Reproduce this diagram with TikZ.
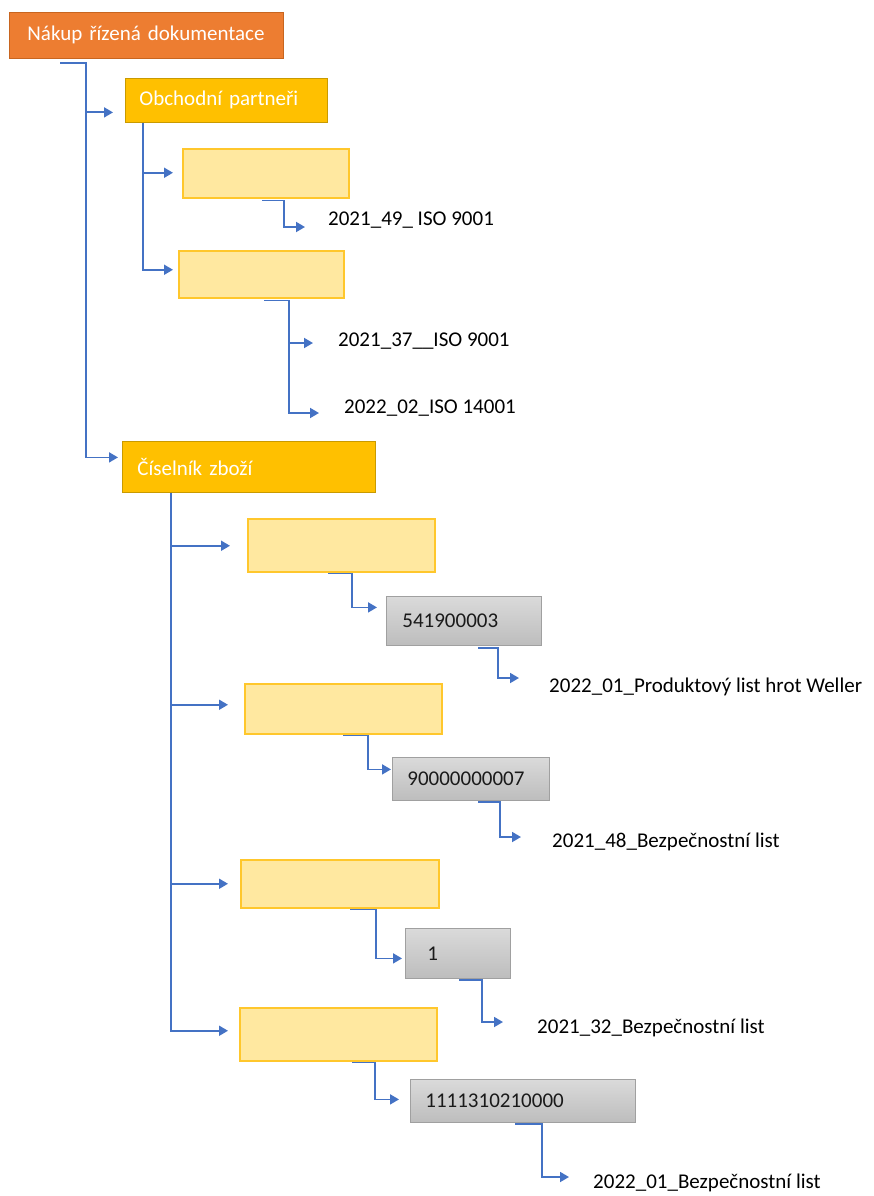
\documentclass[tikz,border=0pt]{standalone}
\usepackage{fontspec}
\setmainfont{Carlito}
\usetikzlibrary{arrows.meta,calc}
\definecolor{conn}{HTML}{4472C4}
\definecolor{orangeF}{HTML}{ED7D31}
\definecolor{orangeD}{HTML}{C8651F}
\definecolor{goldF}{HTML}{FFC000}
\definecolor{goldD}{HTML}{C99A00}
\definecolor{lightF}{HTML}{FFE8A0}
\definecolor{lightD}{HTML}{FFC72C}
\definecolor{greyT}{HTML}{DADADA}
\definecolor{greyB}{HTML}{BDBDBD}
\definecolor{greyD}{HTML}{A0A0A0}
\definecolor{txt}{HTML}{1A1A1A}
\tikzset{
  base/.style={anchor=north west, rectangle, align=left, inner ysep=0pt,
    font=\fontsize{21}{25}\selectfont},
  rootbox/.style={base, fill=orangeF, draw=orangeD, line width=0.8pt, text=white},
  catbox/.style={base, fill=goldF, draw=goldD, line width=0.8pt, text=white},
  emptybox/.style={base, fill=lightF, draw=lightD, line width=1.5pt},
  greybox/.style={base, top color=greyT, bottom color=greyB, draw=greyD, line width=0.8pt, text=txt},
  doclabel/.style={anchor=west, inner sep=0pt, text=black, font=\fontsize{21}{25}\selectfont},
  arr/.style={draw=conn, line width=1.8pt, -{Triangle[length=9pt,width=10pt]}}
}
\begin{document}
\begin{tikzpicture}[x=1pt,y=-1pt]
\useasboundingbox (0,0) rectangle (873,1196);
% boxes
\node[rootbox, minimum width=274pt, minimum height=46pt, inner xsep=18pt, text width=238pt] (root) at (9,12) {\mbox{Nákup řízená dokumentace}};
\node[catbox, minimum width=202pt, minimum height=44pt, inner xsep=14pt, text width=174pt] (obch) at (125,78) {\mbox{Obchodní partneři}};
\node[emptybox, minimum width=166pt, minimum height=49pt] (b1) at (182,148) {};
\node[emptybox, minimum width=165pt, minimum height=47pt] (b2) at (178,250) {};
\node[catbox, minimum width=253pt, minimum height=51pt, inner xsep=15pt, text width=223pt] (cis) at (122,441) {\mbox{Číselník zboží}\\[-6pt]};
\node[emptybox, minimum width=187pt, minimum height=53pt] (b3) at (247,518) {};
\node[greybox, minimum width=155pt, minimum height=49pt, inner xsep=16pt, text width=123pt] (g1) at (386,596) {541900003\\[-6pt]};
\node[emptybox, minimum width=197pt, minimum height=50pt] (b4) at (244,683) {};
\node[greybox, minimum width=157pt, minimum height=43pt, inner xsep=15pt, text width=127pt] (g2) at (392,757) {90000000007};
\node[emptybox, minimum width=198pt, minimum height=48pt] (b5) at (240,859) {};
\node[greybox, minimum width=105pt, minimum height=50pt, inner xsep=22pt, text width=61pt] (g3) at (405,928) {1\\[-6pt]};
\node[emptybox, minimum width=197pt, minimum height=53pt] (b6) at (239,1007) {};
\node[greybox, minimum width=225pt, minimum height=43pt, inner xsep=15pt, text width=195pt] (g4) at (410,1079) {1111310210000};
% labels
\node[doclabel] (l1) at (328,220) {2021\_49\_ ISO 9001};
\node[doclabel] (l2) at (338,341) {2021\_37\_\_ISO 9001};
\node[doclabel] (l3) at (344,408) {2022\_02\_ISO 14001};
\node[doclabel] (l4) at (549,687) {2022\_01\_Produktový list hrot Weller};
\node[doclabel] (l5) at (552,842) {2021\_48\_Bezpečnostní list};
\node[doclabel] (l6) at (537,1028) {2021\_32\_Bezpečnostní list};
\node[doclabel] (l7) at (593,1183) {2022\_01\_Bezpečnostní list};
% connectors
\draw[arr] ($(root.south west)+(51,4)$) -- ++(26,0) |- ($(obch.west)+(-12,12)$);
\draw[arr] ($(root.south west)+(51,4)$) -- ++(26,0) |- ($(cis.west)+(-4,-9.5)$);
\draw[arr] ($(obch.south west)+(18,0)$) |- ($(b1.west)+(-9,-0.5)$);
\draw[arr] ($(obch.south west)+(18,0)$) |- ($(b2.west)+(-5,-4.5)$);
\draw[arr] ($(b1.south west)+(80,2)$) -- ++(22,0) |- ($(l1.west)+(-23,7)$);
\draw[arr] ($(b2.south west)+(86,2)$) -- ++(25,0) |- ($(l2.west)+(-25,2)$);
\draw[arr] ($(b2.south west)+(86,2)$) -- ++(25,0) |- ($(l3.west)+(-25,5)$);
\draw[arr] ($(cis.south west)+(49,0)$) |- ($(b3.west)+(-17,0.5)$);
\draw[arr] ($(cis.south west)+(49,0)$) |- ($(b4.west)+(-16,-4)$);
\draw[arr] ($(cis.south west)+(49,0)$) |- ($(b5.west)+(-12,0)$);
\draw[arr] ($(cis.south west)+(49,0)$) |- ($(b6.west)+(-11,-3.5)$);
\draw[arr] ($(b3.south west)+(81,1)$) -- ++(24,0) |- ($(g1.west)+(-9,-13.5)$);
\draw[arr] ($(g1.south west)+(92,2)$) -- ++(20,0) |- ($(l4.west)+(-30,-9)$);
\draw[arr] ($(b4.south west)+(99,1)$) -- ++(25,0) |- ($(g2.west)+(-1,-9.5)$);
\draw[arr] ($(g2.south west)+(86,1)$) -- ++(22,0) |- ($(l5.west)+(-31,-5)$);
\draw[arr] ($(b5.south west)+(110,1)$) -- ++(26,0) |- ($(g3.west)+(-3,5)$);
\draw[arr] ($(g3.south west)+(54,1)$) -- ++(23,0) |- ($(l6.west)+(-34,-6)$);
\draw[arr] ($(b6.south west)+(113,1)$) -- ++(23,0) |- ($(g4.west)+(-11,-1.5)$);
\draw[arr] ($(g4.south west)+(105,1)$) -- ++(27,0) |- ($(l7.west)+(-24,-6)$);
\end{tikzpicture}
\end{document}
